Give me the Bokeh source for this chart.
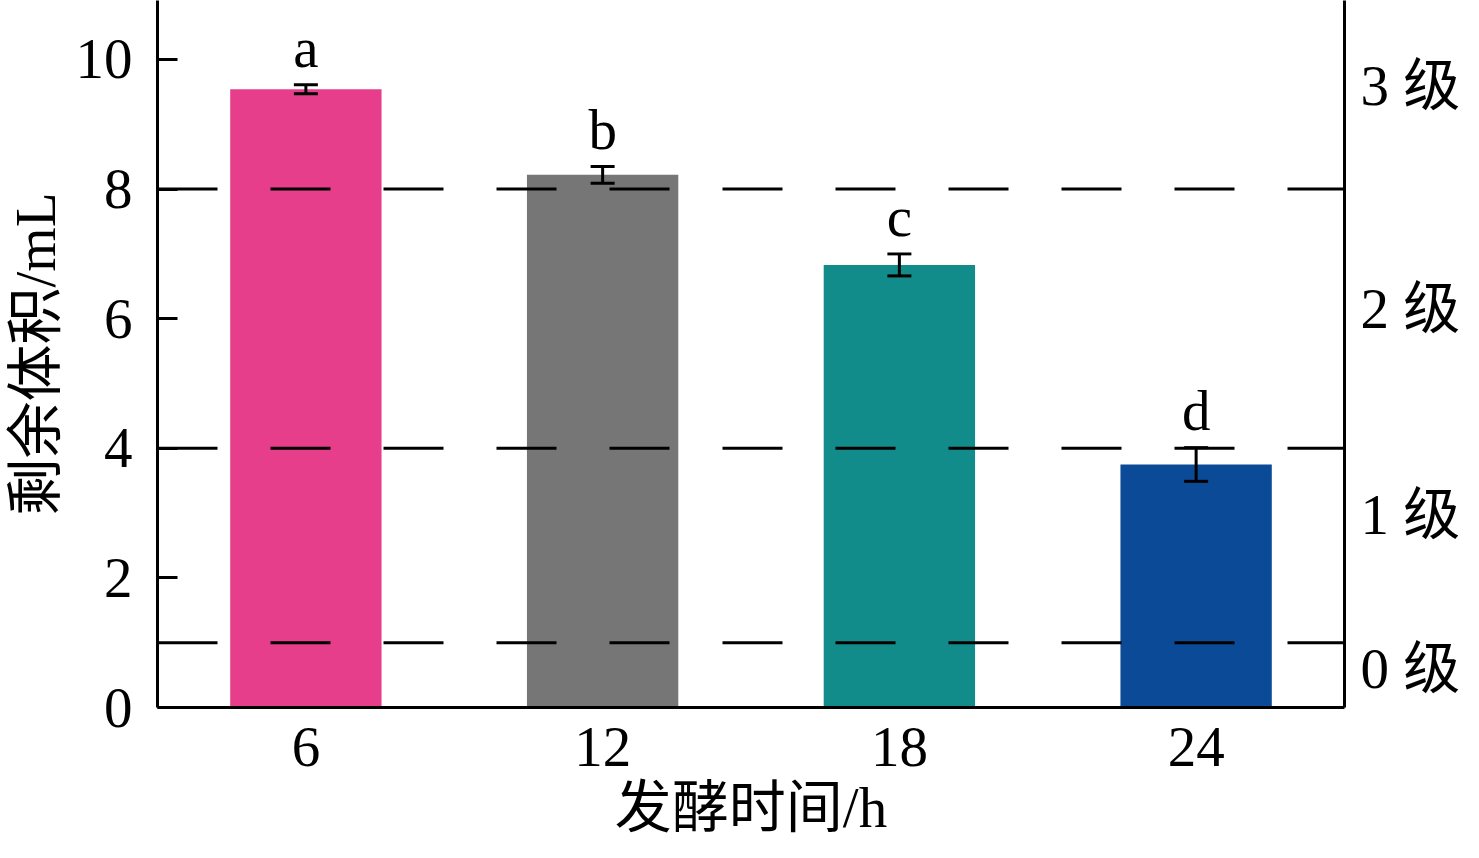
from bokeh.plotting import figure
from bokeh.models import (Range1d, FactorRange, LinearAxis, FixedTicker, Span,
                          ColumnDataSource)
from bokeh.core.properties import value
from bokeh.embed import file_html
from bokeh.resources import INLINE

# ---- data ----
times = ["6", "12", "18", "24"]
volume = [9.54, 8.22, 6.83, 3.75]
err = [0.07, 0.13, 0.17, 0.26]
letters = ["a", "b", "c", "d"]
colors = ["#E63E8B", "#767676", "#118C8A", "#0A4A96"]
y_ticks = [0, 2, 4, 6, 8, 10]
thresholds = [1, 4, 8]
grade_labels = ["0 级", "1 级", "2 级", "3 级"]
grade_pos = [0.6, 2.98, 6.16, 9.6]

x_title = "发酵时间/h"
y_title = "剩余体积/mL"

FONT = "'Liberation Serif', 'Noto Sans CJK SC'"
FS = "57px"

upper = [v + e for v, e in zip(volume, err)]
lower = [v - e for v, e in zip(volume, err)]
src = ColumnDataSource(dict(x=times, top=volume, up=upper, lo=lower,
                            lab=letters, color=colors))

p = figure(width=1463, height=842, x_range=FactorRange(*times, range_padding=0),
           y_range=Range1d(0, 10.91), output_backend="svg", toolbar_location=None,
           min_border_left=150, min_border_right=116, min_border_top=0,
           min_border_bottom=135)
p.outline_line_color = None
p.xgrid.visible = False
p.ygrid.visible = False
p.background_fill_color = "white"
p.border_fill_color = "white"

p.vbar(x="x", top="top", width=0.51, color="color", line_color=None, source=src)

p.segment(x0="x", y0="lo", x1="x", y1="up", line_width=3, line_color="black", source=src)
p.scatter(x="x", y="up", marker="dash", size=24, line_width=3, line_color="black", source=src)
p.scatter(x="x", y="lo", marker="dash", size=24, line_width=3, line_color="black", source=src)

p.text(x="x", y="up", text="lab", source=src, text_align="center",
       text_baseline="alphabetic", y_offset=-37, text_font=value("Liberation Serif"),
       text_font_size=FS, text_color="black")

for t in thresholds:
    p.add_layout(Span(location=t, dimension="width", line_color="black",
                      line_width=3, line_dash="60 53"))

# left axis
ya = p.yaxis[0]
ya.ticker = FixedTicker(ticks=y_ticks)
ya.minor_tick_line_color = None
ya.major_tick_in = 20
ya.major_tick_out = 0
ya.major_tick_line_width = 3
ya.axis_line_width = 3
ya.major_label_standoff = 25
ya.major_label_text_font = "Liberation Serif"
ya.major_label_text_font_size = FS
ya.major_label_text_color = "black"
ya.axis_label = y_title
ya.axis_label_text_font = FONT
ya.axis_label_text_font_size = FS
ya.axis_label_text_font_style = "normal"
ya.axis_label_text_color = "black"
ya.axis_label_standoff = 6

# bottom axis
xa = p.xaxis[0]
xa.major_tick_line_color = None
xa.major_tick_in = 0
xa.major_tick_out = 0
xa.axis_line_width = 3
xa.major_label_standoff = 20
xa.major_label_text_font = "Liberation Serif"
xa.major_label_text_font_size = FS
xa.major_label_text_color = "black"
xa.axis_label = x_title
xa.axis_label_text_font = FONT
xa.axis_label_text_font_size = FS
xa.axis_label_text_font_style = "normal"
xa.axis_label_text_color = "black"
xa.axis_label_standoff = 7

# right axis with grade labels
ra = LinearAxis(ticker=FixedTicker(ticks=grade_pos),
                major_label_overrides={pos: lab for pos, lab in zip(grade_pos, grade_labels)})
ra.major_tick_line_color = None
ra.major_tick_in = 0
ra.major_tick_out = 0
ra.minor_tick_line_color = None
ra.axis_line_width = 3
ra.major_label_standoff = 16
ra.major_label_text_font = FONT
ra.major_label_text_font_size = FS
ra.major_label_text_color = "black"
p.add_layout(ra, "right")

open("out.html", "w").write(file_html(p, INLINE))
